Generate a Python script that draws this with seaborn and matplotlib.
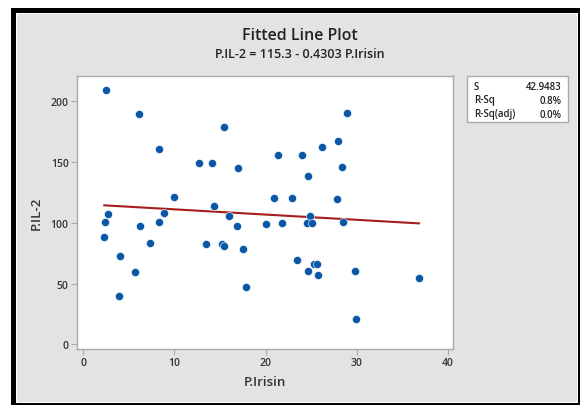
import matplotlib
matplotlib.use("Agg")
import matplotlib.pyplot as plt
import matplotlib.patches as mpatches
import numpy as np
import pandas as pd
import seaborn as sns

# Data
irisin = [2.5, 6.1, 8.35, 12.7, 14.1, 15.5, 16.95, 10.0, 14.4, 2.75, 8.9, 16.0,
          2.4, 2.3, 6.2, 8.3, 4.1, 3.9, 5.7, 7.3, 13.5, 15.2, 15.4, 16.85, 17.5, 17.9,
          28.9, 28.0, 26.2, 21.4, 24.0, 28.4, 24.7, 20.9, 22.9, 27.8, 24.9,
          20.1, 21.8, 24.5, 25.1, 28.5, 23.4, 24.7, 25.3, 25.6, 25.8, 29.8, 29.9, 36.85]
il2 = [209, 189, 161, 148.7, 148.7, 179, 144.6, 121.5, 113.8, 107, 107.8, 105.6,
       100.4, 88.3, 97.7, 100.4, 72.4, 40, 59.8, 83.4, 82.6, 82.6, 80.9, 96.9, 78.4, 47.2,
       190, 167, 162, 155.3, 155.3, 146.2, 138.5, 120, 120, 119.3, 105.6,
       98.8, 99.6, 99.6, 100.1, 100.4, 69.1, 60.6, 66.4, 66.4, 57, 60.6, 20.8, 54.6]

intercept = 115.3
slope = -0.4303
stat_names = ["S", "R-Sq", "R-Sq(adj)"]
stat_values = ["42.9483", "0.8%", "0.0%"]
x_ticks = [0, 10, 20, 30, 40]
y_ticks = [0, 50, 100, 150, 200]

df = pd.DataFrame({"P.Irisin": irisin, "P.IL-2": il2})
xfit = np.array([min(irisin), max(irisin)])
fit_df = pd.DataFrame({"P.Irisin": xfit, "P.IL-2": intercept + slope * xfit})

sns.set_theme(style="white")
plt.rcParams["font.family"] = ["Open Sans", "DejaVu Sans"]

W, H = 583, 406
fig = plt.figure(figsize=(W / 100, H / 100), dpi=100)
fig.patch.set_facecolor("white")

def rect(x0, y0, x1, y1, **kw):
    return mpatches.Rectangle((x0 / W, 1 - y1 / H), (x1 - x0) / W, (y1 - y0) / H,
                              transform=fig.transFigure, **kw)

fig.patches.append(rect(11, 9, 580, 406, facecolor="black", edgecolor="none", zorder=-3))
fig.patches.append(rect(16, 14, 578, 404, facecolor="white", edgecolor="none", zorder=-2))
fig.patches.append(rect(17, 15, 577, 403, facecolor="#e3e3e3", edgecolor="none", zorder=-1))

ax = fig.add_axes([77 / W, 1 - 350 / H, (453 - 77) / W, (350 - 77) / H])
ax.set_facecolor("white")

sns.lineplot(data=fit_df, x="P.Irisin", y="P.IL-2", ax=ax, color="#a81c1c", lw=1.5, zorder=2)
sns.scatterplot(data=df, x="P.Irisin", y="P.IL-2", ax=ax, color="#0a57a8", s=34,
                edgecolor="white", linewidth=0.4, zorder=3)

ax.set_xlim(-0.66, 40.55)
ax.set_ylim(-3.8, 220.6)
ax.set_xticks(x_ticks)
ax.set_yticks(y_ticks)
for s in ax.spines.values():
    s.set_color("#aaaaaa")
    s.set_linewidth(1.0)
ax.tick_params(axis="both", direction="out", length=4, width=0.8, color="#aaaaaa",
               labelsize=7.5, labelcolor="#333333", pad=2, bottom=True, left=True)
for lab in ax.get_xticklabels() + ax.get_yticklabels():
    lab.set_fontweight("semibold")

ax.set_xlabel("P.Irisin", fontsize=9.5, color="#333333", fontweight="semibold", labelpad=5)
ax.set_ylabel("P.IL-2", fontsize=9.5, color="#333333", fontweight="semibold", labelpad=6)

fig.text(300 / W, 1 - 36 / H, "Fitted Line Plot", ha="center", va="center",
         fontsize=11.5, color="#222222", fontweight="semibold")
fig.text(300 / W, 1 - 55 / H, "P.IL-2 = 115.3 - 0.4303 P.Irisin", ha="center", va="center",
         fontsize=9, color="#222222", fontweight="semibold")

# stats box
fig.patches.append(rect(467, 77, 568, 123, facecolor="white", edgecolor="#aaaaaa", lw=1.0, zorder=1))
row_y = [87, 101, 115]
for name, val, yy in zip(stat_names, stat_values, row_y):
    fig.text(474 / W, 1 - yy / H, name, ha="left", va="center", fontsize=7,
             color="#222222", fontweight="semibold", zorder=2)
    fig.text(562 / W, 1 - yy / H, val, ha="right", va="center", fontsize=7,
             color="#222222", fontweight="semibold", zorder=2)

fig.savefig("out.png", dpi=100)
